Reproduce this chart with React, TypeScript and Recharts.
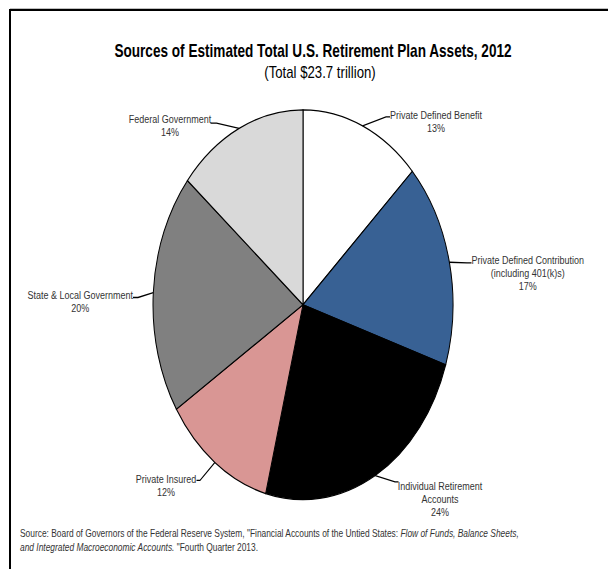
import { PieChart, Pie, Cell } from "recharts";

// slice order: clockwise from 12 o'clock
const CATEGORIES = [
  "Private Defined Benefit",
  "Private Defined Contribution\n(including 401(k)s)",
  "Individual Retirement\nAccounts",
  "Private Insured",
  "State & Local Government",
  "Federal Government",
];
const SHARES = [13, 17, 24, 12, 20, 14];
const COLORS = ["#ffffff", "#386194", "#000000", "#d99694", "#808080", "#d9d9d9"];

const TITLE = "Sources of Estimated Total U.S. Retirement Plan Assets, 2012";
const SUBTITLE = "(Total $23.7 trillion)";

// the original image is stretched vertically, so we draw flat and scale the whole thing
const W = 608;
const H = 438;
const STRETCH = 569 / H;
const FONT = "'Liberation Sans', Arial, sans-serif";
const LINE_H = 10;

// leader tip (tx, ty), elbow x, label center x, first baseline
const LABEL_POS = [
  { tx: 390, ty: 90, ex: 386, lx: 436, ly: 91.5 },
  { tx: 471.5, ty: 202.3, ex: 467, lx: 527.7, ly: 203.1 },
  { tx: 398.5, ty: 371, ex: 395, lx: 440, ly: 376.9 },
  { tx: 196.5, ty: 369.8, ex: 200, lx: 166, ly: 371.5 },
  { tx: 133, ty: 229, ex: 138, lx: 80.3, ly: 230 },
  { tx: 210.5, ty: 94.8, ex: 216.5, lx: 170, ly: 95 },
];

const data = CATEGORIES.map((name, i) => ({ name, value: SHARES[i] }));

const RAD = Math.PI / 180;

function renderLabel(props: any) {
  const { cx, cy, midAngle, outerRadius, index, value } = props;
  const pos = LABEL_POS[index];
  const sx = cx + outerRadius * Math.cos(-midAngle * RAD);
  const sy = cy + outerRadius * Math.sin(-midAngle * RAD);
  const lines = CATEGORIES[index].split("\n");
  return (
    <g key={`lbl-${index}`}>
      <polyline
        points={`${sx},${sy} ${pos.ex},${pos.ty} ${pos.tx},${pos.ty}`}
        fill="none"
        stroke="#000"
        strokeWidth={1}
      />
      <text textAnchor="middle" fontSize={9} fill="#333" fontFamily={FONT}>
        {lines.map((l, i) => (
          <tspan key={i} x={pos.lx} y={pos.ly + i * LINE_H}>
            {l}
          </tspan>
        ))}
        <tspan x={pos.lx} y={pos.ly + lines.length * LINE_H}>
          {value}%
        </tspan>
      </text>
    </g>
  );
}

export default function App() {
  return (
    <div style={{ position: "absolute", left: 0, top: 0, width: 608, height: 569, overflow: "hidden", background: "#fff" }}>
      <div
        style={{
          position: "absolute",
          left: 0,
          top: 0,
          width: W,
          height: H,
          transform: `scaleY(${STRETCH})`,
          transformOrigin: "0 0",
        }}
      >
        <PieChart width={W} height={H} margin={{ top: 0, right: 0, bottom: 0, left: 0 }}>
          <Pie
            data={data}
            dataKey="value"
            nameKey="name"
            cx={303}
            cy={234.6}
            outerRadius={150}
            startAngle={90}
            endAngle={-270}
            stroke="#000"
            strokeWidth={1}
            label={renderLabel}
            labelLine={false}
            isAnimationActive={false}
          >
            {data.map((d, i) => (
              <Cell key={d.name} fill={COLORS[i]} />
            ))}
          </Pie>
        </PieChart>
        <svg
          width={W}
          height={H}
          style={{ position: "absolute", left: 0, top: 0, pointerEvents: "none" }}
        >
          <line x1={10} y1={7.6} x2={W} y2={7.6} stroke="#000" strokeWidth={1.6} />
          <line x1={10} y1={7} x2={10} y2={H} stroke="#000" strokeWidth={2} />
          <text x={313} y={44} textAnchor="middle" fontSize={13.6} fontWeight="bold" fill="#000" fontFamily={FONT}>
            {TITLE}
          </text>
          <text x={320} y={59.8} textAnchor="middle" fontSize={13.2} fill="#000" fontFamily={FONT}>
            {SUBTITLE}
          </text>
          <text x={20} y={413.5} fontSize={8.4} fill="#333" fontFamily={FONT}>
            Source: Board of Governors of the Federal Reserve System, "Financial Accounts of the Untied States:{" "}
            <tspan fontStyle="italic">Flow of Funds, Balance Sheets,</tspan>
          </text>
          <text x={20} y={424.2} fontSize={8.4} fill="#333" fontFamily={FONT}>
            <tspan fontStyle="italic">and Integrated Macroeconomic Accounts.</tspan> "Fourth Quarter 2013.
          </text>
        </svg>
      </div>
    </div>
  );
}
